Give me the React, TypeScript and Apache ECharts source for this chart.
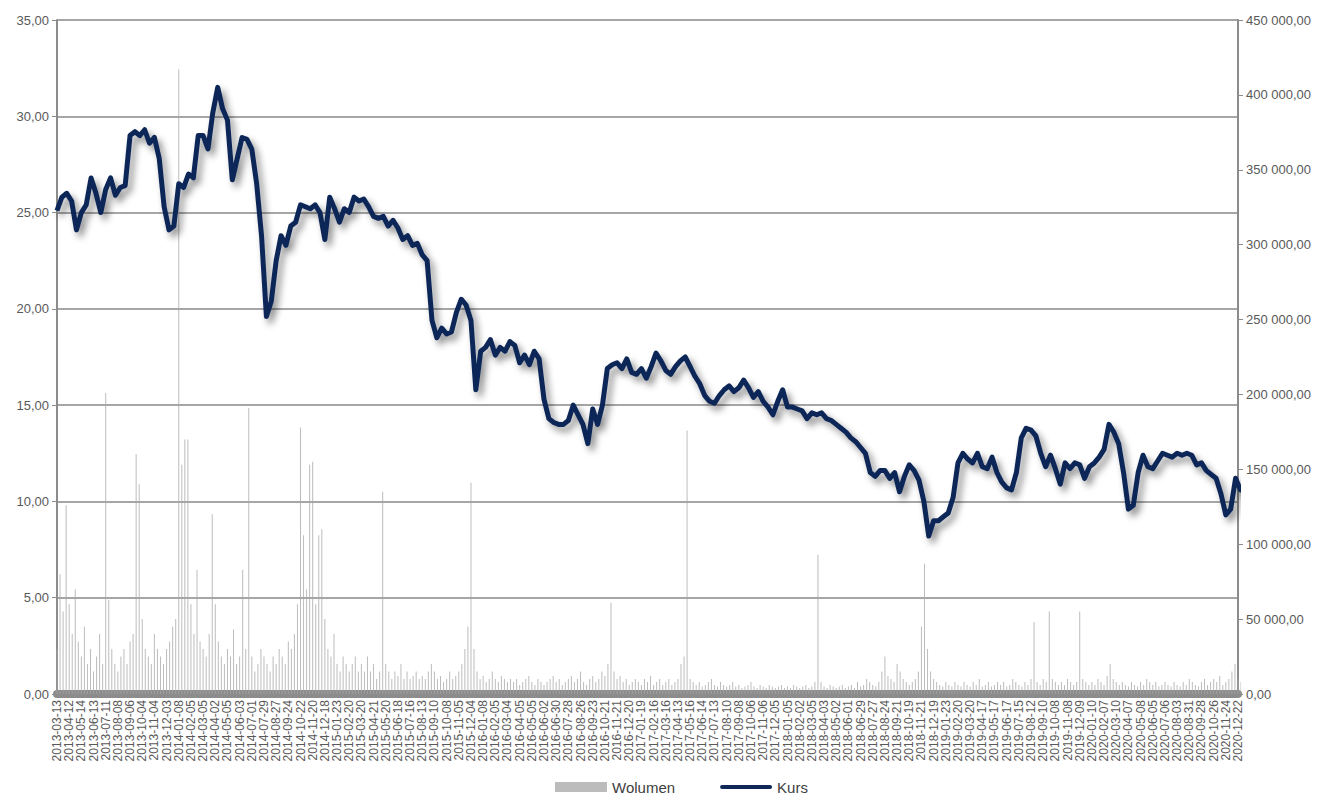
import React, { useEffect, useRef } from "react";
import * as echarts from "echarts";

// X-axis labels (one every 20 trading days)
const dateLabels: string[] = [
  "2013-03-13", "2013-04-12", "2013-05-14", "2013-06-13", "2013-07-11", "2013-08-08", "2013-09-06", "2013-10-04", "2013-11-04", "2013-12-03",
  "2014-01-08", "2014-02-05", "2014-03-05", "2014-04-02", "2014-05-05", "2014-06-03", "2014-07-01", "2014-07-29", "2014-08-27", "2014-09-24", "2014-10-22", "2014-11-20", "2014-12-18",
  "2015-01-23", "2015-02-20", "2015-03-20", "2015-04-21", "2015-05-20", "2015-06-18", "2015-07-16", "2015-08-13", "2015-09-10", "2015-10-08", "2015-11-05", "2015-12-04",
  "2016-01-08", "2016-02-05", "2016-03-04", "2016-04-05", "2016-05-05", "2016-06-02", "2016-06-30", "2016-07-28", "2016-08-26", "2016-09-23", "2016-10-21", "2016-11-21", "2016-12-20",
  "2017-01-19", "2017-02-16", "2017-03-16", "2017-04-13", "2017-05-16", "2017-06-14", "2017-07-13", "2017-08-10", "2017-09-08", "2017-10-06", "2017-11-06", "2017-12-05",
  "2018-01-05", "2018-02-02", "2018-03-05", "2018-04-03", "2018-05-02", "2018-06-01", "2018-06-29", "2018-07-27", "2018-08-24", "2018-09-21", "2018-10-19", "2018-11-21", "2018-12-19",
  "2019-01-23", "2019-02-20", "2019-03-20", "2019-04-17", "2019-05-17", "2019-06-17", "2019-07-15", "2019-08-12", "2019-09-10", "2019-10-08", "2019-11-08", "2019-12-09",
  "2020-01-10", "2020-02-07", "2020-03-10", "2020-04-07", "2020-05-08", "2020-06-05", "2020-07-06", "2020-08-03", "2020-08-31", "2020-09-28", "2020-10-26", "2020-11-24", "2020-12-22",
];
const LABEL_STEP = 20; // trading days between labels

// Share price (Kurs), one reading every 8 trading days
const KURS_STEP = 8;
const kurs: number[] = [
  25.1, 25.8, 26.0, 25.6, 24.1, 25.0, 25.4, 26.8, 26.0, 25.0,
  26.2, 26.8, 25.9, 26.3, 26.4, 29.0, 29.2, 29.0, 29.3, 28.6,
  28.9, 27.8, 25.3, 24.1, 24.3, 26.5, 26.3, 27.0, 26.8, 29.0,
  29.0, 28.3, 30.2, 31.5, 30.4, 29.8, 26.7, 27.8, 28.9, 28.8,
  28.3, 26.5, 23.8, 19.6, 20.4, 22.5, 23.8, 23.3, 24.3, 24.5,
  25.4, 25.3, 25.2, 25.4, 25.0, 23.6, 25.8, 25.2, 24.5, 25.2,
  25.0, 25.8, 25.6, 25.7, 25.3, 24.8, 24.7, 24.8, 24.3, 24.6,
  24.2, 23.6, 23.8, 23.3, 23.4, 22.8, 22.5, 19.4, 18.5, 19.0,
  18.7, 18.8, 19.8, 20.5, 20.2, 19.4, 15.8, 17.8, 18.0, 18.4,
  17.6, 18.0, 17.8, 18.3, 18.1, 17.2, 17.6, 17.1, 17.8, 17.4,
  15.3, 14.3, 14.1, 14.0, 14.0, 14.2, 15.0, 14.5, 14.0, 13.0,
  14.8, 14.0, 15.0, 16.9, 17.1, 17.2, 16.9, 17.4, 16.7, 16.6,
  16.9, 16.4, 17.0, 17.7, 17.3, 16.8, 16.6, 17.0, 17.3, 17.5,
  17.0, 16.5, 16.1, 15.5, 15.2, 15.1, 15.5, 15.8, 16.0, 15.7,
  15.9, 16.3, 15.9, 15.4, 15.7, 15.2, 14.9, 14.5, 15.2, 15.8,
  14.9, 14.9, 14.8, 14.7, 14.3, 14.6, 14.5, 14.6, 14.3, 14.2,
  14.0, 13.8, 13.6, 13.3, 13.1, 12.8, 12.5, 11.5, 11.3, 11.6,
  11.6, 11.2, 11.5, 10.5, 11.3, 11.9, 11.6, 11.1, 10.0, 8.2,
  9.0, 9.0, 9.2, 9.4, 10.2, 12.0, 12.5, 12.2, 12.0, 12.5,
  11.8, 11.7, 12.3, 11.5, 11.0, 10.7, 10.6, 11.5, 13.3, 13.8,
  13.7, 13.4, 12.5, 11.8, 12.4, 11.7, 10.9, 12.0, 11.7, 12.0,
  11.9, 11.2, 11.8, 12.0, 12.3, 12.7, 14.0, 13.6, 13.0, 11.5,
  9.6, 9.8, 11.5, 12.4, 11.8, 11.7, 12.1, 12.5, 12.4, 12.3,
  12.5, 12.4, 12.5, 12.4, 11.9, 12.0, 11.6, 11.4, 11.2, 10.4,
  9.3, 9.6, 11.2, 10.6, 10.9, 11.3,
];

// Volume (Wolumen), one reading every 5 trading days
const VOL_STEP = 5;
const wolumen: number[] = [
  30000, 80000, 55000, 126000, 60000, 40000, 70000, 35000, 25000, 45000,
  20000, 30000, 15000, 25000, 40000, 20000, 201000, 63000, 30000, 20000,
  15000, 25000, 30000, 20000, 35000, 40000, 160000, 140000, 50000, 30000,
  25000, 20000, 40000, 30000, 25000, 20000, 30000, 35000, 45000, 50000,
  417000, 153000, 170000, 170000, 60000, 40000, 83000, 35000, 30000, 25000,
  40000, 120000, 60000, 35000, 25000, 20000, 30000, 25000, 43000, 20000,
  25000, 83000, 30000, 191000, 25000, 15000, 20000, 30000, 25000, 20000,
  15000, 25000, 20000, 30000, 25000, 20000, 35000, 30000, 40000, 60000,
  178000, 106000, 70000, 153000, 155000, 60000, 106000, 110000, 50000, 30000,
  25000, 40000, 20000, 15000, 25000, 20000, 15000, 20000, 25000, 15000,
  20000, 15000, 25000, 15000, 20000, 10000, 15000, 135000, 20000, 15000,
  10000, 15000, 12000, 20000, 10000, 15000, 10000, 12000, 15000, 10000,
  12000, 10000, 15000, 20000, 15000, 10000, 12000, 8000, 10000, 15000,
  10000, 12000, 15000, 20000, 30000, 45000, 141000, 30000, 15000, 10000,
  12000, 8000, 10000, 15000, 10000, 8000, 12000, 10000, 8000, 10000,
  8000, 10000, 6000, 8000, 10000, 12000, 8000, 6000, 10000, 8000,
  6000, 8000, 10000, 12000, 8000, 10000, 6000, 8000, 10000, 12000,
  8000, 10000, 15000, 8000, 6000, 10000, 12000, 8000, 10000, 15000,
  12000, 20000, 61000, 15000, 10000, 12000, 8000, 10000, 6000, 8000,
  10000, 8000, 6000, 10000, 8000, 12000, 6000, 8000, 10000, 6000,
  8000, 10000, 6000, 8000, 10000, 20000, 25000, 176000, 10000, 8000,
  6000, 8000, 5000, 6000, 8000, 10000, 6000, 5000, 8000, 6000,
  5000, 6000, 8000, 5000, 6000, 4000, 5000, 6000, 8000, 5000,
  4000, 6000, 5000, 4000, 6000, 5000, 4000, 5000, 6000, 4000,
  5000, 4000, 6000, 5000, 4000, 5000, 6000, 4000, 5000, 8000,
  93000, 8000, 5000, 4000, 6000, 5000, 4000, 5000, 6000, 4000,
  5000, 6000, 4000, 8000, 5000, 6000, 10000, 8000, 6000, 5000,
  8000, 15000, 25000, 12000, 10000, 8000, 20000, 15000, 10000, 8000,
  6000, 8000, 10000, 15000, 45000, 87000, 30000, 15000, 10000, 8000,
  6000, 5000, 8000, 6000, 5000, 8000, 6000, 5000, 8000, 6000,
  5000, 8000, 6000, 10000, 5000, 6000, 8000, 5000, 6000, 8000,
  6000, 8000, 5000, 6000, 10000, 8000, 6000, 5000, 8000, 6000,
  10000, 48000, 8000, 6000, 10000, 8000, 55000, 10000, 8000, 6000,
  8000, 6000, 10000, 8000, 6000, 8000, 55000, 10000, 8000, 6000,
  8000, 6000, 10000, 8000, 6000, 12000, 20000, 10000, 8000, 6000,
  8000, 6000, 5000, 8000, 6000, 5000, 8000, 6000, 10000, 8000,
  6000, 8000, 5000, 6000, 8000, 6000, 5000, 8000, 6000, 5000,
  8000, 6000, 10000, 8000, 6000, 5000, 8000, 10000, 6000, 8000,
  10000, 8000, 12000, 6000, 8000, 10000, 15000, 20000, 10000, 8000,
  12000, 25000, 15000,
];

const FONT = "'Liberation Sans', Arial, sans-serif";
const AXIS_GRAY = "#8c8c8c";
const TEXT_GRAY = "#595959";
const KURS_COLOR = "#0f2858";
const VOL_COLOR = "#a6a6a6";

const fmtLeft = (v: number) => v.toFixed(2).replace(".", ",");
const fmtRight = (v: number) =>
  Math.round(v).toString().replace(/\B(?=(\d{3})+(?!\d))/g, " ") + ",00";

export default function App() {
  const ref = useRef<HTMLDivElement>(null);

  useEffect(() => {
    document.body.style.margin = "0";
    if (!ref.current) return;
    const chart = echarts.init(ref.current, undefined, { renderer: "svg" });
    const lastDay = (dateLabels.length - 1) * LABEL_STEP;

    chart.setOption({
      animation: false,
      backgroundColor: "#ffffff",
      textStyle: { fontFamily: FONT },
      grid: { left: 57, right: 84, top: 20, bottom: 102, containLabel: false },
      legend: {
        left: 555,
        top: 779,
        padding: 0,
        itemWidth: 52,
        itemHeight: 10,
        itemGap: 45,
        symbolKeepAspect: true,
        textStyle: { fontSize: 15, lineHeight: 16, color: "#404040", fontFamily: FONT },
        data: [
          { name: "Wolumen", icon: "rect" },
          { name: "Kurs", icon: "path://M2,0 L50,0 A2,2 0 0 1 50,4 L2,4 A2,2 0 0 1 2,0 Z" },
        ],
      },
      xAxis: {
        type: "value",
        min: 0,
        max: lastDay,
        interval: LABEL_STEP,
        axisLine: { show: true, lineStyle: { color: AXIS_GRAY, width: 8 } },
        axisTick: { show: false },
        splitLine: { show: false },
        axisLabel: {
          rotate: 90,
          margin: 6,
          fontSize: 12,
          color: TEXT_GRAY,
          fontFamily: FONT,
          showMinLabel: true,
          showMaxLabel: true,
          formatter: (v: number) => dateLabels[Math.round(v / LABEL_STEP)] ?? "",
        },
      },
      yAxis: [
        {
          type: "value",
          position: "left",
          min: 0,
          max: 35,
          interval: 5,
          axisLine: { show: true, lineStyle: { color: AXIS_GRAY, width: 2 } },
          axisTick: { show: true, length: 5, lineStyle: { color: AXIS_GRAY, width: 1 } },
          splitLine: { show: true, lineStyle: { color: "#a6a6a6", width: 2 } },
          axisLabel: { fontSize: 13, color: TEXT_GRAY, fontFamily: FONT, formatter: fmtLeft },
        },
        {
          type: "value",
          position: "right",
          min: 0,
          max: 450000,
          interval: 50000,
          axisLine: { show: true, lineStyle: { color: AXIS_GRAY, width: 2 } },
          axisTick: { show: true, length: 5, lineStyle: { color: AXIS_GRAY, width: 1 } },
          splitLine: { show: false },
          axisLabel: { fontSize: 13, color: TEXT_GRAY, fontFamily: FONT, formatter: fmtRight },
        },
      ],
      series: [
        {
          name: "Wolumen",
          type: "bar",
          yAxisIndex: 1,
          barWidth: 1,
          itemStyle: { color: VOL_COLOR, opacity: 0.75 },
          data: wolumen.map((v, i) => [i * VOL_STEP, v]),
          z: 1,
        },
        {
          name: "Kurs",
          type: "line",
          yAxisIndex: 0,
          symbol: "none",
          showSymbol: false,
          itemStyle: { color: KURS_COLOR },
          lineStyle: {
            color: KURS_COLOR,
            width: 5,
            join: "round",
            shadowColor: "rgba(0,0,0,0.45)",
            shadowBlur: 7,
            shadowOffsetX: 4,
            shadowOffsetY: 5,
          },
          data: kurs.map((v, i) => [i * KURS_STEP, v]),
          z: 3,
        },
      ],
    });

    return () => chart.dispose();
  }, []);

  return (
    <div
      ref={ref}
      style={{ position: "absolute", left: 0, top: 0, width: 1322, height: 796 }}
    />
  );
}
